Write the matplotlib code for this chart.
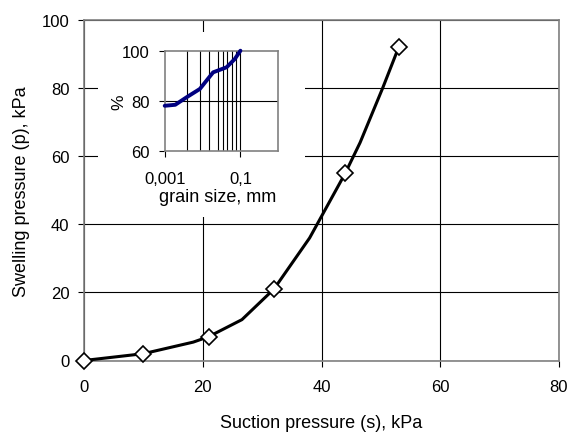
import matplotlib
matplotlib.use("Agg")
import matplotlib.pyplot as plt
from matplotlib.patches import Rectangle

plt.rcParams["font.family"] = ["Liberation Sans", "DejaVu Sans"]

# main curve: measured points (markers) and the smoothed line through them
suction_pts = [0, 10, 21, 32, 44, 53]
swelling_pts = [0, 2, 7, 21, 55, 92]
suction_curve = [0, 10, 18.4, 21, 26.6, 32, 38, 44, 46.5, 50.3, 53]
swelling_curve = [0, 2, 5.4, 7, 12, 21, 36, 55, 64, 80, 92]

x_ticks = [0, 20, 40, 60, 80]
y_ticks = [0, 20, 40, 60, 80, 100]

# inset: grain size distribution
grain_size = [0.001, 0.0019, 0.0038, 0.0085, 0.0127, 0.019, 0.043, 0.071, 0.1]
passing = [78.1, 78.5, 81.5, 84.8, 88.1, 91.4, 93.4, 96.7, 100]
inset_grid_x = [0.0039, 0.0086, 0.015, 0.025, 0.034, 0.045, 0.06, 0.075]
inset_xticks = [0.001, 0.1]
inset_xlabels = ["0,001", "0,1"]
inset_yticks = [60, 80, 100]

SPINE = "#808080"

fig = plt.figure(figsize=(5.71, 4.35), dpi=100)
ax = fig.add_axes([84 / 571, 1 - 361.5 / 435, 475 / 571, 340.5 / 435])

ax.plot(suction_curve, swelling_curve, color="black", linewidth=2.2, zorder=3)
ax.plot(suction_pts, swelling_pts, linestyle="none", marker="D", markersize=8,
        markerfacecolor="white", markeredgecolor="black", markeredgewidth=1.2,
        zorder=4, clip_on=False)

ax.set_xlim(0, 80)
ax.set_ylim(0, 100)
ax.set_xticks(x_ticks)
ax.set_yticks(y_ticks)
ax.grid(True, color="black", linewidth=0.8)
ax.set_axisbelow(True)
for spine in ax.spines.values():
    spine.set_color(SPINE)
    spine.set_linewidth(1.2)
ax.tick_params(direction="out", length=4, width=0.8, color="black", labelsize=12)
ax.tick_params(axis="x", pad=9.5)
ax.tick_params(axis="y", pad=6.5)
ax.set_xlabel("Suction pressure (s), kPa", fontsize=13)
ax.set_ylabel("Swelling pressure (p), kPa", fontsize=13)
ax.xaxis.set_label_coords(0.5, -0.156)
ax.yaxis.set_label_coords(-0.114, 0.5)

# white box hiding the grid behind the inset
ax.add_patch(Rectangle((14 / 475, 0.4214), (305 - 98) / 475, 0.9648 - 0.4214,
                       transform=ax.transAxes, facecolor="white", edgecolor="none", zorder=2))

ins = fig.add_axes([164.7 / 571, 1 - 152.3 / 435, 113.6 / 571, 100.6 / 435])
ins.plot(grain_size, passing, color="#000080", linewidth=2.8, solid_capstyle="round",
         clip_on=False, zorder=3)
ins.set_xscale("log")
ins.set_xlim(0.001, 1)
ins.set_ylim(60, 100)
ins.set_xticks(inset_xticks)
ins.set_xticklabels(inset_xlabels)
ins.set_xticks([], minor=True)
ins.set_yticks(inset_yticks)
for gx in inset_grid_x:
    ins.axvline(gx, color="black", linewidth=0.8, zorder=1)
ins.axvline(inset_xticks[1], color="black", linewidth=0.8, zorder=1)
ins.axhline(80, color="black", linewidth=0.8, zorder=1)
for spine in ins.spines.values():
    spine.set_color(SPINE)
    spine.set_linewidth(1.2)
ins.tick_params(direction="out", length=4, width=0.8, color="black", labelsize=12)
ins.tick_params(axis="x", pad=10)
ins.tick_params(axis="y", pad=7)
ins.set_xlabel("grain size, mm", fontsize=13)
ins.set_ylabel("%", fontsize=12.5)
ins.xaxis.set_label_coords(0.465, -0.36)
ins.yaxis.set_label_coords(-0.34, 0.5)

fig.savefig("out.png", dpi=100)
